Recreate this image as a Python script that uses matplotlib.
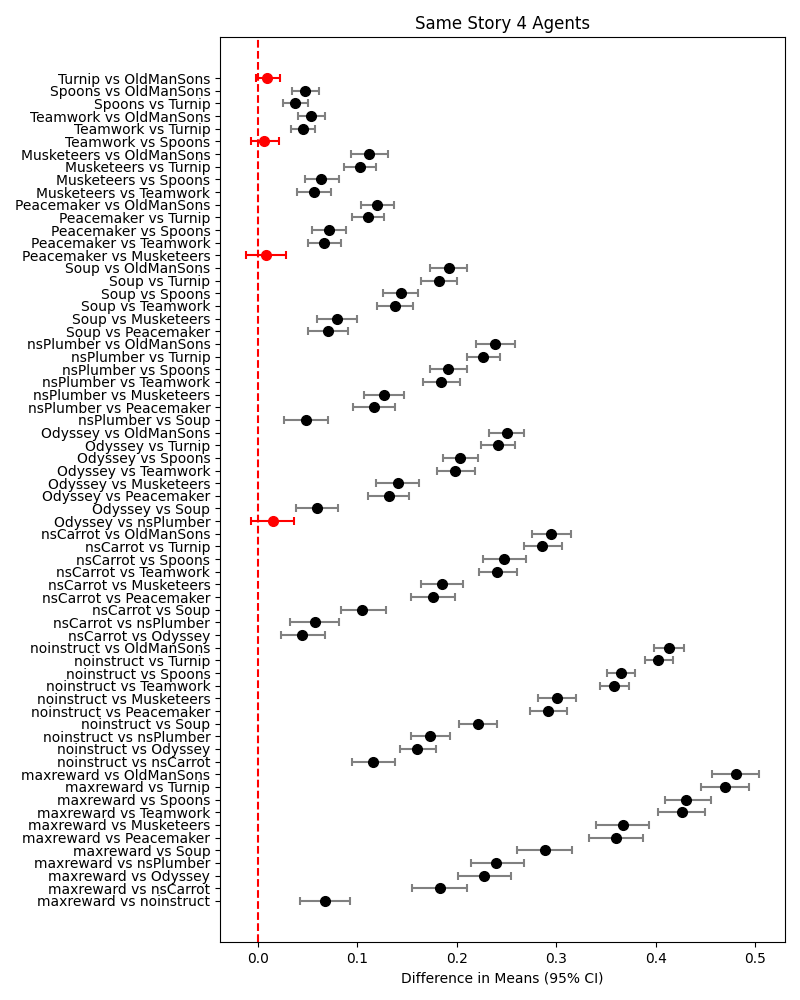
import matplotlib
matplotlib.use("Agg")
import matplotlib.pyplot as plt
import numpy as np

# comparisons, top to bottom
labels = [
    "Turnip vs OldManSons", "Spoons vs OldManSons", "Spoons vs Turnip",
    "Teamwork vs OldManSons", "Teamwork vs Turnip", "Teamwork vs Spoons",
    "Musketeers vs OldManSons", "Musketeers vs Turnip", "Musketeers vs Spoons",
    "Musketeers vs Teamwork",
    "Peacemaker vs OldManSons", "Peacemaker vs Turnip", "Peacemaker vs Spoons",
    "Peacemaker vs Teamwork", "Peacemaker vs Musketeers",
    "Soup vs OldManSons", "Soup vs Turnip", "Soup vs Spoons", "Soup vs Teamwork",
    "Soup vs Musketeers", "Soup vs Peacemaker",
    "nsPlumber vs OldManSons", "nsPlumber vs Turnip", "nsPlumber vs Spoons",
    "nsPlumber vs Teamwork", "nsPlumber vs Musketeers", "nsPlumber vs Peacemaker",
    "nsPlumber vs Soup",
    "Odyssey vs OldManSons", "Odyssey vs Turnip", "Odyssey vs Spoons",
    "Odyssey vs Teamwork", "Odyssey vs Musketeers", "Odyssey vs Peacemaker",
    "Odyssey vs Soup", "Odyssey vs nsPlumber",
    "nsCarrot vs OldManSons", "nsCarrot vs Turnip", "nsCarrot vs Spoons",
    "nsCarrot vs Teamwork", "nsCarrot vs Musketeers", "nsCarrot vs Peacemaker",
    "nsCarrot vs Soup", "nsCarrot vs nsPlumber", "nsCarrot vs Odyssey",
    "noinstruct vs OldManSons", "noinstruct vs Turnip", "noinstruct vs Spoons",
    "noinstruct vs Teamwork", "noinstruct vs Musketeers", "noinstruct vs Peacemaker",
    "noinstruct vs Soup", "noinstruct vs nsPlumber", "noinstruct vs Odyssey",
    "noinstruct vs nsCarrot",
    "maxreward vs OldManSons", "maxreward vs Turnip", "maxreward vs Spoons",
    "maxreward vs Teamwork", "maxreward vs Musketeers", "maxreward vs Peacemaker",
    "maxreward vs Soup", "maxreward vs nsPlumber", "maxreward vs Odyssey",
    "maxreward vs nsCarrot", "maxreward vs noinstruct",
]

means = [
    0.009, 0.048, 0.038, 0.054, 0.046, 0.006,
    0.112, 0.103, 0.064, 0.057,
    0.120, 0.111, 0.072, 0.067, 0.008,
    0.192, 0.182, 0.144, 0.138, 0.080, 0.071,
    0.239, 0.227, 0.191, 0.184, 0.127, 0.117, 0.049,
    0.251, 0.242, 0.203, 0.198, 0.141, 0.132, 0.060, 0.015,
    0.295, 0.286, 0.248, 0.241, 0.185, 0.176, 0.105, 0.058, 0.045,
    0.413, 0.402, 0.365, 0.358, 0.301, 0.292, 0.221, 0.173, 0.160, 0.116,
    0.481, 0.470, 0.431, 0.426, 0.367, 0.360, 0.289, 0.240, 0.228, 0.183, 0.068,
]

lower = [
    -0.002, 0.035, 0.026, 0.041, 0.034, -0.007,
    0.094, 0.087, 0.048, 0.040,
    0.104, 0.095, 0.055, 0.051, -0.012,
    0.173, 0.164, 0.126, 0.120, 0.060, 0.051,
    0.219, 0.210, 0.173, 0.166, 0.107, 0.096, 0.027,
    0.233, 0.224, 0.186, 0.180, 0.119, 0.111, 0.039, -0.007,
    0.276, 0.268, 0.227, 0.222, 0.164, 0.154, 0.084, 0.033, 0.023,
    0.398, 0.389, 0.351, 0.344, 0.282, 0.274, 0.202, 0.154, 0.143, 0.095,
    0.457, 0.446, 0.409, 0.402, 0.340, 0.333, 0.261, 0.214, 0.201, 0.155, 0.043,
]

upper = [
    0.022, 0.062, 0.051, 0.068, 0.058, 0.021,
    0.131, 0.119, 0.082, 0.074,
    0.137, 0.127, 0.089, 0.084, 0.029,
    0.210, 0.200, 0.161, 0.156, 0.100, 0.091,
    0.259, 0.244, 0.210, 0.203, 0.147, 0.138, 0.071,
    0.268, 0.259, 0.221, 0.218, 0.162, 0.152, 0.081, 0.037,
    0.315, 0.306, 0.270, 0.261, 0.206, 0.198, 0.129, 0.082, 0.068,
    0.428, 0.417, 0.379, 0.373, 0.320, 0.311, 0.241, 0.193, 0.179, 0.138,
    0.504, 0.494, 0.456, 0.450, 0.393, 0.387, 0.316, 0.268, 0.255, 0.210, 0.093,
]


def main() -> None:
    m = np.array(means)
    lo = np.array(lower)
    hi = np.array(upper)
    y = np.arange(len(labels))

    fig, ax = plt.subplots(figsize=(8, 10), dpi=100)

    for i in range(len(labels)):
        # red when the interval includes zero
        crosses_zero = lo[i] <= 0 <= hi[i]
        dot = "red" if crosses_zero else "black"
        bar = "red" if crosses_zero else "gray"
        ax.errorbar(m[i], y[i], xerr=[[m[i] - lo[i]], [hi[i] - m[i]]],
                    fmt="o", color=dot, ecolor=bar, capsize=3,
                    markersize=7, elinewidth=1.5, capthick=1.5)

    ax.axvline(0, color="red", linestyle="--", linewidth=1.5)

    ax.set_yticks(y)
    ax.set_yticklabels(labels)
    ax.invert_yaxis()
    ax.set_xlabel("Difference in Means (95% CI)")
    ax.set_title("Same Story 4 Agents")

    fig.subplots_adjust(left=0.275, right=0.981, top=0.963, bottom=0.058)
    fig.savefig("out.png")
    plt.close(fig)


if __name__ == "__main__":
    main()
